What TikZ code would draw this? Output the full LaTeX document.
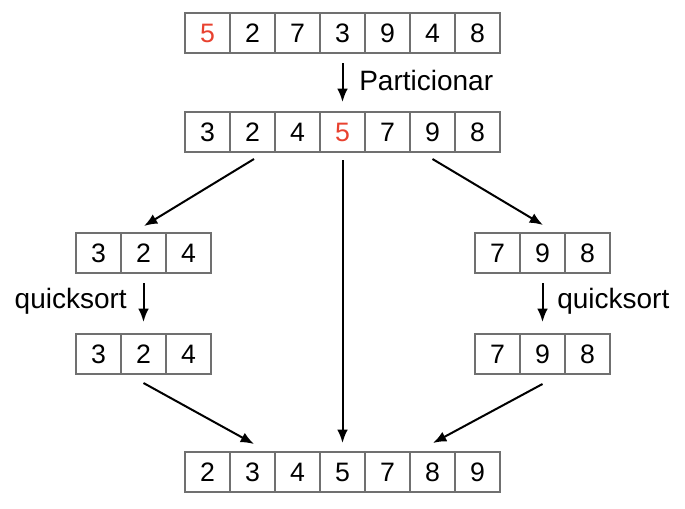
\documentclass[tikz,border=0pt]{standalone}
\usepackage{fontspec}
\setmainfont{Liberation Sans}
\usetikzlibrary{arrows.meta}
\definecolor{pivot}{HTML}{E8412F}
\definecolor{boxline}{HTML}{707070}
\tikzset{
  cellbox/.style={draw=boxline, line width=0.8pt, minimum width=33.75pt, minimum height=30pt,
    inner sep=0pt, outer sep=0pt, font=\fontsize{20}{24}\selectfont},
  flow/.style={-{Latex[length=10pt,width=8pt]}, line width=1.5pt, black},
  lbl/.style={font=\fontsize{21}{25}\selectfont, inner sep=0pt}
}
\newcommand\cellrow[4]{%
  \foreach \v [count=\i] in {#4} {
    \node[cellbox] (#1-\i) at ({#2+22.5+45*(\i-1)}, {#3+20}) {\v};
  }%
}
\begin{document}
\begin{tikzpicture}[x=0.75pt, y=-0.75pt]
\useasboundingbox (0,0) rectangle (685,508);
\cellrow{a}{185}{13}{{\textcolor{pivot}{5}},2,7,3,9,4,8}
\cellrow{b}{185}{112}{3,2,4,{\textcolor{pivot}{5}},7,9,8}
\cellrow{l}{76}{233}{3,2,4}
\cellrow{r}{475}{233}{7,9,8}
\cellrow{m}{76}{334}{3,2,4}
\cellrow{n}{475}{334}{7,9,8}
\cellrow{f}{185}{452}{2,3,4,5,7,8,9}
% labels
\node[lbl, anchor=west] (part) at (359,80) {Particionar};
\node[lbl, anchor=east] (qsl) at (127,301) {quicksort};
\node[lbl, anchor=west] (qsr) at (557,301) {quicksort};
% arrows
\draw[flow] ([shift={(0,10)}]a-4.south) -- ([shift={(0,-10)}]b-4.north);
\draw[flow] ([shift={(0,10)}]l-2.south) -- ([shift={(0,-12)}]m-2.north);
\draw[flow] ([shift={(0,10)}]r-2.south) -- ([shift={(0,-12)}]n-2.north);
\draw[flow] ([shift={(1.5,7)}]b-2.south) -- ([shift={(0.5,-7)}]l-2.north);
\draw[flow] ([shift={(0,7)}]b-6.south) -- ([shift={(0.5,-8)}]r-2.north);
\draw[flow] ([shift={(0,8)}]b-4.south) -- ([shift={(0,-9)}]f-4.north);
\draw[flow] ([shift={(0,9)}]m-2.south) -- ([shift={(1.5,-8)}]f-2.north);
\draw[flow] ([shift={(0,10)}]n-2.south) -- ([shift={(0.5,-9)}]f-6.north);
\end{tikzpicture}
\end{document}
